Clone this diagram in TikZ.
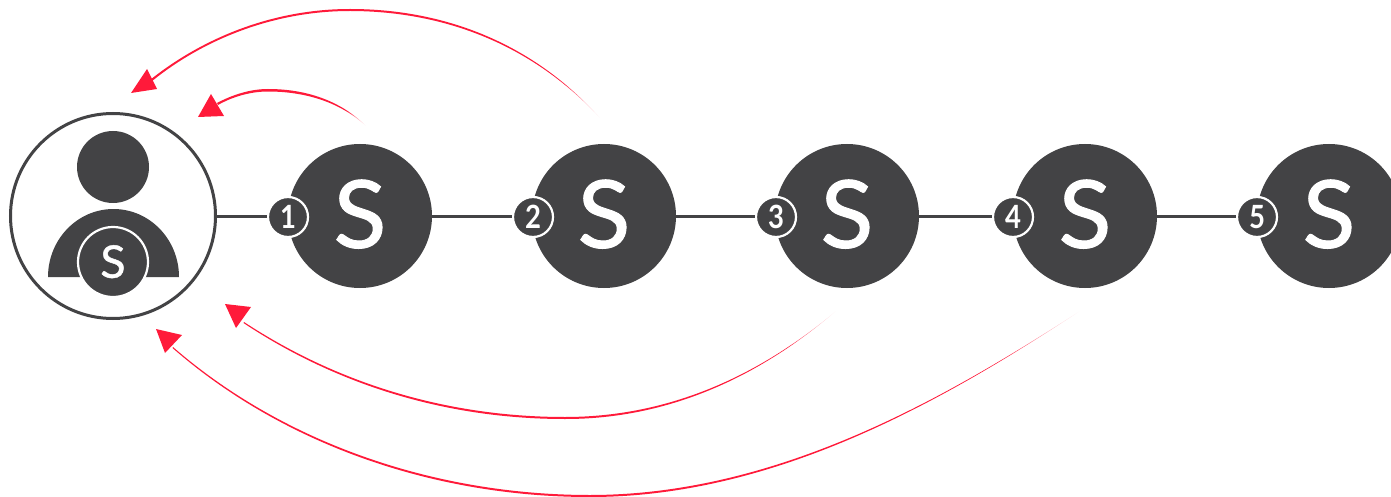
\documentclass[tikz,border=0pt]{standalone}
\usepackage{fontspec}
\setmainfont{Lato}
\newfontfamily\din[FakeStretch=0.86]{Lato}
\newfontfamily\dinS[FakeBold=1,FakeStretch=1.04]{Lato}
\definecolor{ink}{HTML}{434345}
\definecolor{alert}{HTML}{FF1A3A}
\pgfdeclarehorizontalshading{tailfade}{100bp}{color(0bp)=(alert); color(68bp)=(alert); color(75bp)=(white); color(100bp)=(white)}
\pgfdeclarehorizontalshading{longfade}{100bp}{color(0bp)=(alert); color(71bp)=(alert); color(75bp)=(white); color(100bp)=(white)}
\tikzset{
  big/.style={circle,fill=ink,text=white,minimum size=144pt,inner sep=0pt,font=\dinS\fontsize{94}{94}\selectfont},
  badge/.style={circle,fill=ink,draw=white,line width=2.2pt,text=white,minimum size=40pt,inner sep=0pt,font=\din\fontsize{32}{32}\selectfont\bfseries},
  link/.style={draw=ink,line width=3pt},
  tip/.style={fill=alert,draw=none},
  swoosh/.style={draw=none,shading=tailfade},
  longswoosh/.style={draw=none,shading=longfade}
}
\begin{document}
\begin{tikzpicture}[x=1pt,y=-1pt]
\useasboundingbox (0,0) rectangle (1391,497);
\fill[white] (0,0) rectangle (1391,497);
% person
\node[circle,draw=ink,line width=3pt,fill=white,minimum size=205pt,inner sep=0pt] (person) at (113,216) {};
\fill[ink] (113,167) circle (36);
\fill[ink] (48,277) arc[start angle=180,end angle=360,x radius=65.5,y radius=68] -- cycle;
\node[circle,fill=ink,draw=white,line width=2.2pt,text=white,minimum size=70pt,inner sep=0pt,font=\dinS\fontsize{45}{45}\selectfont] (token) at (113,262) {\raisebox{1pt}{S}};
% stations
\node[big] (s1) at (360,216) {\raisebox{4.5pt}{S}};
\node[big] (s2) at (604,216) {\raisebox{4.5pt}{S}};
\node[big] (s3) at (847,216) {\raisebox{4.5pt}{S}};
\node[big] (s4) at (1085,216) {\raisebox{4.5pt}{S}};
\node[big] (s5) at (1329,216) {\raisebox{4.5pt}{S}};
% badges (positions)
\node[badge] (b1) at (288,217) {1};
\node[badge] (b2) at (533,217) {2};
\node[badge] (b3) at (776,217) {3};
\node[badge] (b4) at (1013,217) {4};
\node[badge] (b5) at (1257,217) {5};
% links
\draw[link] (person.east) -- (b1.west |- person.east);
\draw[link] (s1.east) -- (b2.west |- s1.east);
\draw[link] (s2.east) -- (b3.west |- s2.east);
\draw[link] (s3.east) -- (b4.west |- s3.east);
\draw[link] (s4.east) -- (b5.west |- s4.east);
% returning arcs
\path[longswoosh] (600,118) .. controls (530,40) and (440,9) .. (350,9) .. controls (270,9) and (200,40) .. (150,80)
  -- (151.5,81.5) .. controls (200,42) and (270,11) .. (350,11) .. controls (440,11) and (530,42) .. (600,118) -- cycle;
\path[swoosh] (366,126) .. controls (340,100) and (305,89) .. (268,89) .. controls (250,89) and (232,95) .. (217,103)
  -- (218,105) .. controls (232,97) and (250,91.5) .. (268,91.5) .. controls (305,91.5) and (340,102) .. (366,126) -- cycle;
\path[longswoosh] (836,311) .. controls (760,375) and (670,417) .. (565,417) .. controls (450,417) and (340,385) .. (244,322)
  -- (243.5,323) .. controls (340,387) and (450,419) .. (565,419) .. controls (670,419) and (760,376) .. (836,311) -- cycle;
\path[longswoosh] (1080,311) .. controls (950,395) and (780,495) .. (590,495) .. controls (430,495) and (280,440) .. (173,347)
  -- (172.5,348) .. controls (280,442) and (430,497) .. (590,497) .. controls (780,497) and (950,396) .. (1080,311) -- cycle;
% heads
\fill[tip] (131,93) -- (147,69) -- (157,89) -- cycle;
\fill[tip] (198,117) -- (211,94) -- (224,116) -- cycle;
\fill[tip] (225,304) -- (251,307) -- (236,328) -- cycle;
\fill[tip] (156,329) -- (182,335) -- (165,353) -- cycle;
\end{tikzpicture}
\end{document}
